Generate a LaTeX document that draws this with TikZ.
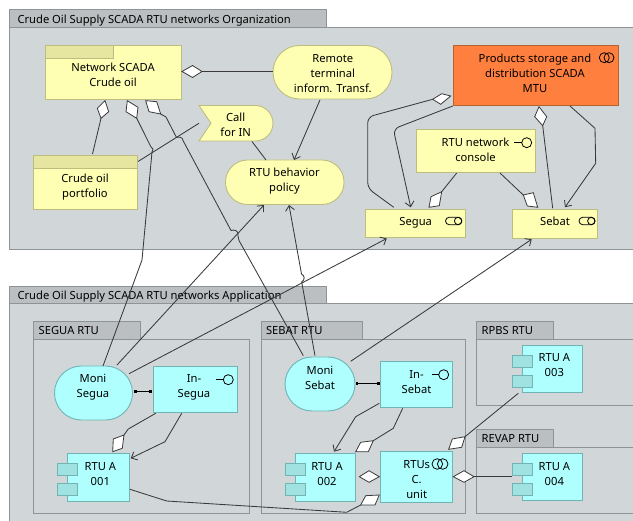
\documentclass[tikz,border=0pt]{standalone}
\usepackage{fontspec}
\setmainfont{Noto Sans}
\usetikzlibrary{arrows.meta,calc}
\definecolor{panelfill}{HTML}{D1D7D9}
\definecolor{tabfill}{HTML}{BBBFC1}
\definecolor{paneledge}{HTML}{8E9496}
\definecolor{yel}{HTML}{FFFFB4}
\definecolor{yeledge}{HTML}{BDBD80}
\definecolor{yelhead}{HTML}{E6E6A0}
\definecolor{cy}{HTML}{B0FFFF}
\definecolor{cyedge}{HTML}{70B4B4}
\definecolor{cyport}{HTML}{A0E2E2}
\definecolor{org}{HTML}{FF7F3F}
\definecolor{orgedge}{HTML}{B8622F}
\definecolor{ink}{HTML}{3A3A3A}
\newcommand{\tx}[3]{\raisebox{#2}[0pt][0pt]{\makebox[0pt]{\hspace*{#1}\begin{tabular}{@{}c@{}}#3\end{tabular}}}}
% box: [style]{name}{x0}{y0}{x1}{y1}{text cx}{text cy}{text}
\newcommand{\bx}[9][]{%
  \pgfmathsetmacro{\mycx}{(#3+#5)/2}\pgfmathsetmacro{\mycy}{(#4+#6)/2}%
  \pgfmathsetmacro{\myw}{#5-#3}\pgfmathsetmacro{\myh}{#6-#4}%
  \pgfmathsetmacro{\mydx}{2*(#7-\mycx)}\pgfmathsetmacro{\mydy}{\mycy-#8-3.9}%
  \node[#1,minimum width=\myw pt,minimum height=\myh pt] (#2) at (\mycx,\mycy) {\tx{\mydx pt}{\mydy pt}{#9}};}
% tab: {name}{x0}{y0}{x1}{y1}{text x}{text}
\newcommand{\tb}[7]{%
  \pgfmathsetmacro{\mycx}{(#2+#4)/2}\pgfmathsetmacro{\mycy}{(#3+#5)/2}%
  \pgfmathsetmacro{\myw}{#4-#2}\pgfmathsetmacro{\myh}{#5-#3}\pgfmathsetmacro{\mydx}{#6-#2}%
  \node[tabbox,minimum width=\myw pt,minimum height=\myh pt] (#1) at (\mycx,\mycy)
   {\raisebox{-5pt}[0pt][0pt]{\makebox[\myw pt][l]{\hspace*{\mydx pt}#7}}};}
\newcommand{\dm}[5]{\coordinate (#1) at #2; \draw[diam] (#1) -- #3 -- #4 -- #5 -- cycle;}
\tikzset{
  base/.style={inner sep=0pt,outer sep=0pt,line width=.9pt,text=black,font=\fontsize{11.2}{15}\selectfont},
  tabbox/.style={base,draw=paneledge,fill=tabfill},
  panelbox/.style={base,draw=paneledge,fill=panelfill},
  ybox/.style={base,draw=yeledge,fill=yel},
  ypill/.style={ybox,rounded corners=#1},
  cbox/.style={base,draw=cyedge,fill=cy},
  cpill/.style={cbox,rounded corners=#1},
  obox/.style={base,draw=orgedge,fill=org},
  yhead/.style={draw=yeledge,fill=yelhead,line width=.9pt},
  port/.style={draw=cyedge,fill=cyport,line width=.9pt},
  diam/.style={draw=ink,fill=white,line width=.8pt,line join=miter},
  conn/.style={draw=ink,line width=.85pt},
  arr/.style={conn,-{Straight Barb[length=5pt,width=9pt,line width=.85pt]}},
  sq/.style={draw=black,line width=.8pt,{Square[length=2.5pt,width=2.5pt]}-{Square[length=2.5pt,width=2.5pt]}},
  icon/.style={draw=black,line width=.8pt},
}
\begin{document}
\begin{tikzpicture}[x=1pt,y=-1pt]
\path[use as bounding box,fill=white] (0,0) rectangle (633,521);
\begin{scope}
\clip (0,0) rectangle (633,521);
% panels
\tb{orgtab}{9.5}{9.5}{326}{27}{17.5}{Crude Oil Supply SCADA RTU networks Organization}
\bx[panelbox]{orgpanel}{9.5}{27}{640}{249.5}{320}{140}{}
\tb{apptab}{9.5}{286}{326}{303}{17.5}{Crude Oil Supply SCADA RTU networks Application}
\bx[panelbox]{apppanel}{9.5}{303}{640}{530}{320}{410}{}
\tb{segtab}{33.5}{321}{140}{339}{38.7}{SEGUA RTU}
\bx[panelbox]{segpanel}{33.5}{339}{249.5}{513}{140}{420}{}
\tb{sebtab}{261}{321}{362}{339}{266}{SEBAT RTU}
\bx[panelbox]{sebpanel}{261}{339}{465}{513}{360}{420}{}
\tb{rpbstab}{476.5}{321}{553.5}{339}{481.7}{RPBS RTU}
\bx[panelbox]{rpbspanel}{476.5}{339}{640}{405.5}{550}{370}{}
\tb{revtab}{476.5}{429}{553.5}{447}{481.7}{REVAP RTU}
\bx[panelbox]{revpanel}{476.5}{447}{640}{513}{550}{480}{}
\end{scope}
% organization nodes
\bx[ybox]{net}{45.5}{45.5}{181}{99}{113}{75}{Network SCADA\\Crude oil}
\draw[yhead] (45.5,45.5) rectangle (113.5,58.5);
\bx[ybox]{port}{33.5}{155}{137}{209}{85}{185.5}{Crude oil\\portfolio}
\draw[yhead] (33.5,155) rectangle (137,168);
\bx[ypill=26.5pt]{remote}{273}{45.5}{392}{99}{332.8}{73}{Remote\\terminal\\inform. Transf.}
\draw[ybox] (199,141) -- (211,123.25) -- (199,105.5) -- (255.25,105.5) arc[start angle=-90,end angle=90,radius=17.75] -- cycle;
\bx[base]{call}{199}{105.5}{273}{141}{235.7}{125}{Call\\for IN}
\bx[ypill=22pt]{policy}{225.5}{160}{344}{204.5}{284.5}{180.2}{RTU behavior\\policy}
\bx[obox]{prod}{453}{45.5}{618.5}{105.5}{535}{73}{Products storage and\\distribution SCADA\\MTU}
\bx[ybox]{cons}{416.5}{129.5}{535.5}{172.5}{475.5}{149.5}{RTU network\\console}
\bx[ybox]{segua}{365.5}{209.5}{465}{237.5}{415.7}{221.7}{Segua}
\bx[ybox]{sebat}{512.5}{209.5}{597.5}{238}{555}{221.7}{Sebat}
% application nodes
\bx[cpill=27pt]{monisg}{54.5}{366}{132.5}{420}{93}{386}{Moni\\Segua}
\bx[cbox]{insg}{153}{366.5}{237}{412.5}{194}{386.2}{In-\\Segua}
\bx[cbox]{rtua}{67.5}{453}{129.5}{501}{100.3}{473.5}{RTU A\\001}
\draw[port] (57.5,463.5) rectangle (77.5,475.5); \draw[port] (57.5,483.5) rectangle (77.5,495.5);
\bx[cpill=27pt]{monisb}{285}{357}{355}{411}{320}{377.5}{Moni\\Sebat}
\bx[cbox]{insb}{380.5}{361.5}{452.5}{407.5}{416.5}{381.5}{In-\\Sebat}
\bx[cbox]{rtub}{295}{453}{355}{501}{327}{473.5}{RTU A\\002}
\draw[port] (285,463.5) rectangle (305,475.5); \draw[port] (285,483.5) rectangle (305,495.5);
\bx[cbox]{unit}{380.5}{451.5}{452.5}{502}{416.7}{479}{RTUs\\C.\\unit}
\bx[cbox]{rtuc}{522.5}{345.5}{582.5}{392.5}{554.3}{365.2}{RTU A\\003}
\draw[port] (512.5,355.5) rectangle (532.5,367.5); \draw[port] (512.5,375.5) rectangle (532.5,387.5);
\bx[cbox]{rtud}{522.5}{453.5}{582.5}{500.5}{554.3}{473.5}{RTU A\\004}
\draw[port] (512.5,463.5) rectangle (532.5,475.5); \draw[port] (512.5,483.5) rectangle (532.5,495.5);
% icons
\draw[icon] (604.3,57.7) circle[radius=5]; \draw[icon] (609,57.7) circle[radius=5];
\draw[icon] (514.3,142.7) -- (521.7,142.7); \draw[icon] (526.7,142.7) circle[radius=5];
\draw[icon] (216,379.7) -- (223.3,379.7); \draw[icon] (228.3,379.7) circle[radius=5];
\draw[icon] (431.7,374.7) -- (438.7,374.7); \draw[icon] (443.7,374.7) circle[radius=5];
\draw[icon] (437.3,464) circle[radius=5.3]; \draw[icon] (442.7,464) circle[radius=5.3];
\draw[icon,rounded corners=3.7pt] (445.5,217.3) rectangle (461.8,224.7); \draw[icon] (458.1,221) circle[radius=3.7];
\draw[icon,rounded corners=3.7pt] (579,217.3) rectangle (595,224.7); \draw[icon] (591.3,221) circle[radius=3.7];
% connectors
\dm{da}{(202,71.5)}{(192.5,65.5)}{(182,71.5)}{(192.5,77.5)}
\draw[conn] (da) -- (da -| remote.west);
\dm{db}{(101,118.3)}{(97.3,108.3)}{(105,100.7)}{(108.7,111.7)}
\draw[conn] (db) -- ([shift={(7.25,-28)}]port.center);
\dm{dc}{(136.7,118.3)}{(126,111.7)}{(127.3,100.7)}{(138,107.3)}
\draw[conn] (dc) -- (151,147) -- (153,149) -- (152,152) -- (142,260) -- ([shift={(9.5,-27)}]monisg.center);
\dm{dd}{(160.7,114)}{(149,111.7)}{(145.7,100.7)}{(156.7,101.7)}
\draw[conn] (dd) -- (166,117) -- (176.5,137.5) .. controls (178,136.5) and (183,137) .. (183,140.5) -- (231,230.5) .. controls (234,229.5) and (239,230) .. (238,236) -- (239,240.5) -- ([shift={(-16.7,-28.3)}]monisb.center);
\draw[conn] ([shift={(52.8,-20.5)}]port.center) -- (call.west);
\draw[conn] ([shift={(16,18.25)}]call.center) -- ([shift={(-18.75,-22.25)}]policy.center);
\draw[arr] ([shift={(-12.5,27.75)}]remote.center) -- ([shift={(9.25,-22.25)}]policy.center);
\draw[arr] ([shift={(23.5,-28)}]monisg.center) -- ([shift={(-20.75,22.75)}]policy.center);
\draw[arr] ([shift={(-5,-28.3)}]monisb.center) -- (301.7,282) .. controls (305,280) and (305,275.5) .. (301.5,274) -- ([shift={(4.25,22.75)}]policy.center);
\draw[arr] ([shift={(35.5,-19.3)}]monisg.center) -- ([shift={(-28.5,15)}]segua.center);
\draw[arr] ([shift={(30.7,-22.7)}]monisb.center) -- ([shift={(-23.3,15.5)}]sebat.center);
\dm{de}{(432.7,99.3)}{(441.7,93.7)}{(450.7,96)}{(440.7,104.3)}
\draw[conn,rounded corners=6pt] (de) -- (367.7,117) -- (367.7,188.3) -- ([shift={(-21.5,-16.2)}]segua.center);
\draw[arr,rounded corners=6pt] ([shift={(-83,30.5)}]prod.center) -- (393.3,129) -- ([shift={(-4.5,-16.2)}]segua.center);
\dm{df}{(542.7,125.7)}{(534.7,116.7)}{(539,106.7)}{(546.7,116.7)}
\draw[conn] (df) -- ([shift={(-2.3,-15.5)}]sebat.center);
\draw[arr] ([shift={(34.25,30.5)}]prod.center) -- (595,128.3) -- (595.7,163.3) -- ([shift={(10,-16.5)}]sebat.center);
\dm{dg}{(441.7,191.7)}{(431,196.7)}{(429,207.3)}{(439.3,205.7)}
\draw[conn] (dg) -- ([shift={(-19.3,22)}]cons.center);
\dm{dh}{(523.3,195)}{(533.3,192.7)}{(537.7,207.3)}{(527.3,206)}
\draw[conn] (dh) -- ([shift={(24,22)}]cons.center);
\draw[sq] ([shift={(40.3,-1.7)}]monisg.center) -- ([shift={(-43.3,1.8)}]insg.center);
\dm{di}{(124,435)}{(113.3,439)}{(112.7,451.7)}{(122.3,448.3)}
\draw[conn] (di) -- (128.3,429) -- ([shift={(-39.3,23.8)}]insg.center);
\draw[arr] ([shift={(-13.3,23.8)}]insg.center) -- (165,441.7) -- ([shift={(32.2,-18.7)}]rtua.center);
\dm{dj}{(360.7,505)}{(365.7,495.7)}{(379.3,495)}{(375,505)}
\draw[conn] ([shift={(31.5,12.3)}]rtua.center) -- (166.7,501) -- (346.7,512.3) -- (dj);
\draw[sq] ([shift={(35.7,-0.7)}]monisb.center) -- ([shift={(-37.2,-1.2)}]insb.center);
\draw[arr] ([shift={(-37.2,18.8)}]insb.center) -- (355.7,416.7) -- ([shift={(9,-25.3)}]rtub.center);
\dm{dk}{(373.3,440.7)}{(360.7,442.3)}{(355.7,451.7)}{(368.3,451.7)}
\draw[conn] (dk) -- (393.3,428.3) -- ([shift={(-13.8,23.8)}]insb.center);
\dm{dl}{(359.3,476.7)}{(369,470.7)}{(379.3,476.7)}{(369,482.3)}
\dm{dm}{(474,476.7)}{(464,470.7)}{(453.3,476.7)}{(464,482.3)}
\draw[conn] (dm) -- ([xshift=-11pt]dm -| rtud.west);
\dm{dn}{(465,436.7)}{(452.3,439)}{(448.7,449.3)}{(461.7,447.3)}
\draw[conn] (dn) -- ([shift={(-34.2,24.3)}]rtuc.center);
\end{tikzpicture}
\end{document}
